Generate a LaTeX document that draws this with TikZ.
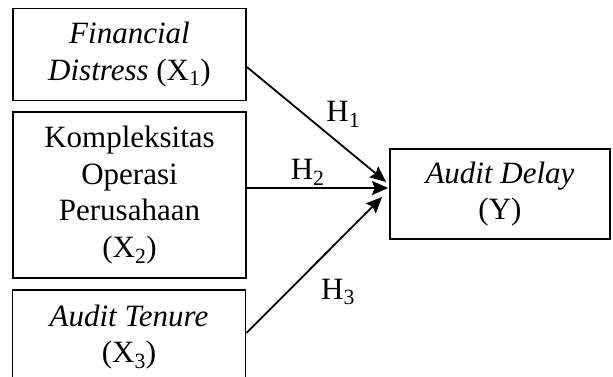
\documentclass[tikz,border=0pt]{standalone}
\usepackage{fontspec}
\setmainfont{Liberation Serif}
\usetikzlibrary{arrows.meta,calc}

\begin{document}
\begin{tikzpicture}[x=1pt, y=-1pt, line width=1.8pt,
    box/.style={draw, align=center, inner sep=0pt, font=\fontsize{31}{36.5}\selectfont},
    lbl/.style={inner sep=2pt, font=\fontsize{31}{36}\selectfont},
    >={Stealth[length=16pt, width=14pt, inset=2.5pt]}]
    \useasboundingbox (0, 0) rectangle (613, 376);
    \clip (0, 0) rectangle (613, 376);

    \node[box, minimum width=233pt, minimum height=92pt] (x1) at (129.5, 54.5) {\textit{Financial}\\\textit{Distress} (X\textsubscript{1})};
    \node[box, minimum width=233pt, minimum height=166pt] (x2) at (129.5, 195) {Kompleksitas\\Operasi\\Perusahaan\\(X\textsubscript{2})};
    \node[box, minimum width=233pt, minimum height=94pt] (x3) at (129, 337) {\textit{Audit Tenure}\\(X\textsubscript{3})};

    \node[box, minimum width=220pt, minimum height=90pt] (y1) at (500, 194) {\textit{Audit Delay}\\(Y)};

    \draw[->] ($(x1.east)+(0,12.5)$) -- ($(y1.west)+(-3,-12)$) node[lbl, pos=0.55, above right] {H\textsubscript{1}};
    \draw[->] ($(x2.east)+(0,-7)$) -- ($(y1.west)+(-1,-6)$) node[lbl, pos=0.43, above] {H\textsubscript{2}};
    \draw[->] ($(x3.east)+(0,-4)$) -- ($(y1.west)+(-7,3)$) node[lbl, pos=0.53, below right, yshift=-15pt] {H\textsubscript{3}};
\end{tikzpicture}
\end{document}
